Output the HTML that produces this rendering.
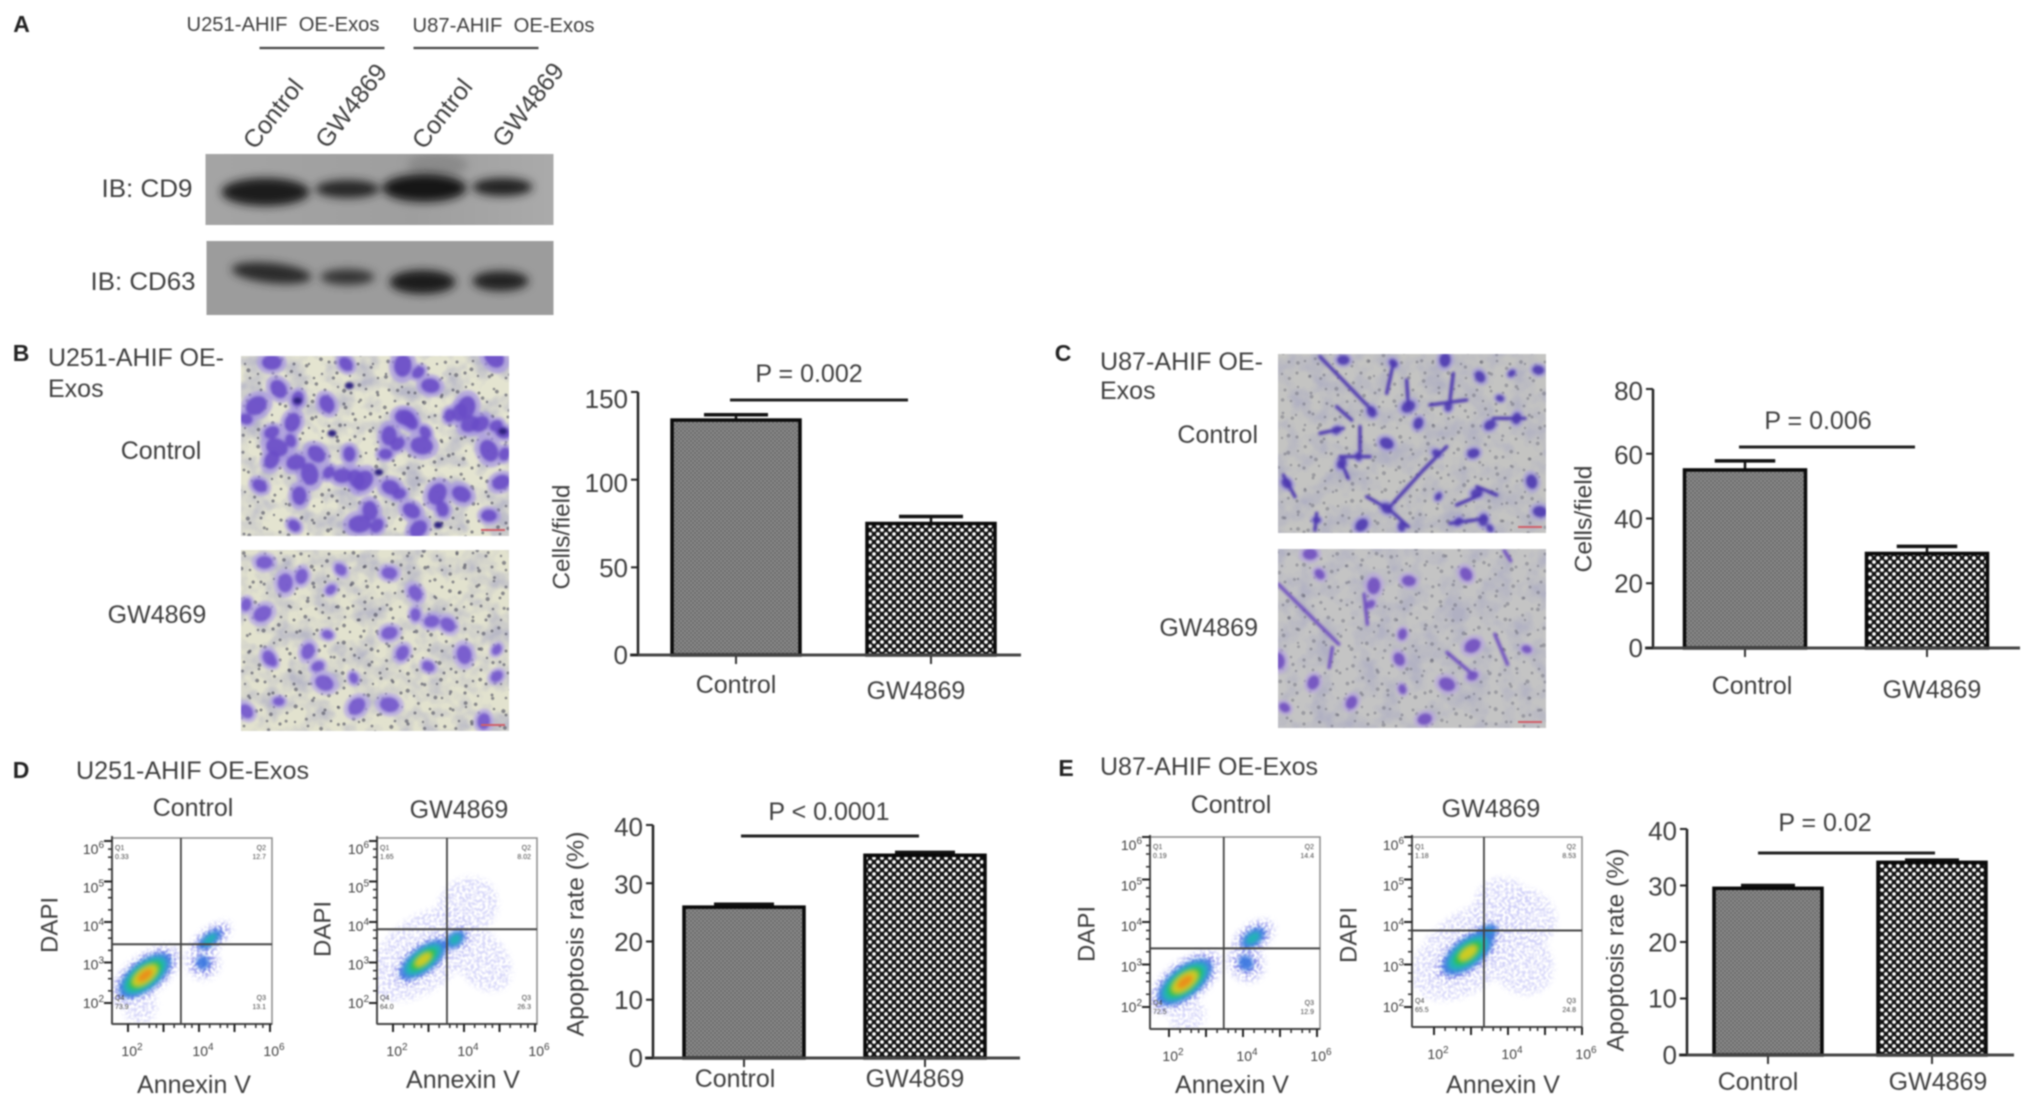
<!DOCTYPE html>
<html lang="en">
<head>
<meta charset="utf-8">
<title>GW4869 exosome inhibition figure</title>
<style>
html,body{margin:0;padding:0;background:#fff;width:2031px;height:1108px;overflow:hidden}
#figure{display:block;filter:blur(.85px)}
text{font-family:"Liberation Sans",sans-serif;fill:#3f3f3f}
</style>
</head>
<body>
<svg id="figure" xmlns="http://www.w3.org/2000/svg" width="2031" height="1108" viewBox="0 0 2031 1108">
<defs>
<pattern id="ctrl-fill" width="4" height="4" patternUnits="userSpaceOnUse"><rect width="4" height="4" fill="#6e6e6e"/><circle cx="1" cy="1" r=".9" fill="#9c9c9c"/><circle cx="3" cy="3" r=".9" fill="#9c9c9c"/></pattern>
<pattern id="gw-fill" width="8" height="8" patternUnits="userSpaceOnUse"><rect width="8" height="8" fill="#111"/><circle cx="2" cy="2" r="1.9" fill="#fff"/><circle cx="6" cy="6" r="1.9" fill="#fff"/></pattern>
<pattern id="pores" width="64" height="64" patternUnits="userSpaceOnUse">
<g fill="#4c4c5c">
<circle cx="5" cy="6" r="1.5"/><circle cx="18" cy="3" r="1.2"/><circle cx="31" cy="9" r="1.5"/><circle cx="46" cy="5" r="1.3"/><circle cx="58" cy="11" r="1.5"/>
<circle cx="11" cy="17" r="1.3"/><circle cx="24" cy="20" r="1.6"/><circle cx="39" cy="18" r="1.2"/><circle cx="52" cy="22" r="1.4"/>
<circle cx="3" cy="29" r="1.4"/><circle cx="16" cy="31" r="1.2"/><circle cx="33" cy="30" r="1.5"/><circle cx="45" cy="33" r="1.3"/><circle cx="60" cy="33" r="1.5"/>
<circle cx="9" cy="42" r="1.5"/><circle cx="25" cy="41" r="1.3"/><circle cx="38" cy="44" r="1.5"/><circle cx="53" cy="44" r="1.2"/>
<circle cx="2" cy="54" r="1.2"/><circle cx="17" cy="53" r="1.6"/><circle cx="30" cy="56" r="1.2"/><circle cx="44" cy="55" r="1.5"/><circle cx="58" cy="58" r="1.3"/>
</g></pattern>
<pattern id="pores-rotated" href="#pores" patternTransform="rotate(37) scale(1.25)"></pattern>
<filter id="band-blur" x="-40%" y="-80%" width="180%" height="260%"><feGaussianBlur stdDeviation="4.5"/></filter>
<filter id="cell-blur" x="-20%" y="-20%" width="140%" height="140%"><feGaussianBlur stdDeviation="1.4"/></filter>
<filter id="cloud-blur" x="-30%" y="-30%" width="160%" height="160%"><feGaussianBlur stdDeviation="2"/></filter>
<filter id="cloud-grain" x="-30%" y="-30%" width="160%" height="160%" color-interpolation-filters="sRGB"><feGaussianBlur in="SourceGraphic" stdDeviation="3" result="soft"/><feTurbulence type="fractalNoise" baseFrequency="0.35" numOctaves="1" seed="8"/><feColorMatrix values="0 0 0 0 0 0 0 0 0 0 0 0 0 0 0 3.5 0 0 0 -1.3" result="grain"/><feComposite in="soft" in2="grain" operator="in"/></filter>
<filter id="mottle" x="0" y="0" width="100%" height="100%" color-interpolation-filters="sRGB"><feTurbulence type="fractalNoise" baseFrequency="0.045" numOctaves="3" seed="11"/><feColorMatrix values="0 0 0 0 .62 0 0 0 0 .62 0 0 0 0 .76 2.4 0 0 0 -.95"/></filter>
<linearGradient id="blot-a" x1="0" y1="0" x2="1" y2="0"><stop offset="0" stop-color="#a4a4a4"/><stop offset=".6" stop-color="#9e9e9e"/><stop offset="1" stop-color="#aaa"/></linearGradient>
</defs>
<rect width="2031" height="1108" fill="#fff"/>

<g transform="translate(-2.5 0)">
<text x="24" y="24" font-size="23" font-weight="bold" text-anchor="middle" dominant-baseline="central" style="fill:#222">A</text>
<text x="189" y="25" font-size="20" dominant-baseline="central" textLength="193" lengthAdjust="spacingAndGlyphs" xml:space="preserve">U251-AHIF  OE-Exos</text>
<text x="415" y="26" font-size="20" dominant-baseline="central" textLength="182" lengthAdjust="spacingAndGlyphs" xml:space="preserve">U87-AHIF  OE-Exos</text>
<line x1="262" y1="48" x2="387" y2="48" stroke="#444" stroke-width="2.2"/>
<line x1="416" y1="48" x2="541" y2="48" stroke="#444" stroke-width="2.2"/>
<text transform="translate(276 114) rotate(-52)" font-size="25" text-anchor="middle" dominant-baseline="central">Control</text>
<text transform="translate(354 106) rotate(-52)" font-size="25" text-anchor="middle" dominant-baseline="central">GW4869</text>
<text transform="translate(445 114) rotate(-52)" font-size="25" text-anchor="middle" dominant-baseline="central">Control</text>
<text transform="translate(531 105) rotate(-52)" font-size="25" text-anchor="middle" dominant-baseline="central">GW4869</text>
<text x="104" y="189" font-size="25" dominant-baseline="central" textLength="91" lengthAdjust="spacingAndGlyphs">IB: CD9</text>
<text x="93" y="282" font-size="25" dominant-baseline="central" textLength="105" lengthAdjust="spacingAndGlyphs">IB: CD63</text>
<svg x="208" y="154" width="348" height="71" viewBox="208 154 348 71">
<rect x="208" y="154" width="348" height="71" fill="url(#blot-a)"/>
<ellipse cx="440" cy="165" rx="30" ry="12" fill="#8a8a8a" filter="url(#band-blur)"/>
<g filter="url(#band-blur)">
<ellipse cx="268" cy="192" rx="44" ry="14" fill="#1a1a1a"/>
<ellipse cx="350" cy="189" rx="32" ry="9" fill="#262626"/>
<ellipse cx="427" cy="188" rx="42" ry="14" fill="#161616"/>
<ellipse cx="505" cy="187" rx="30" ry="9" fill="#202020"/>
</g>
</svg>
<svg x="209" y="241" width="347" height="74" viewBox="209 241 347 74">
<rect x="209" y="241" width="347" height="74" fill="#9c9c9c"/>
<g filter="url(#band-blur)">
<ellipse cx="274" cy="273" rx="40" ry="10" fill="#2c2c2c" transform="rotate(6 274 273)"/>
<ellipse cx="350" cy="277" rx="27" ry="8" fill="#343434"/>
<ellipse cx="425" cy="282" rx="33" ry="12" fill="#1c1c1c"/>
<ellipse cx="503" cy="281" rx="28" ry="10" fill="#242424"/>
</g>
</svg>
</g>

<g>
<text x="21" y="353" font-size="23" font-weight="bold" text-anchor="middle" dominant-baseline="central" style="fill:#222">B</text>
<text x="48" y="358" font-size="25" dominant-baseline="central" textLength="176" lengthAdjust="spacingAndGlyphs">U251-AHIF OE-</text>
<text x="48" y="389" font-size="25" dominant-baseline="central">Exos</text>
<text x="161" y="451" font-size="25" text-anchor="middle" dominant-baseline="central">Control</text>
<text x="157" y="615" font-size="25" text-anchor="middle" dominant-baseline="central">GW4869</text>
</g>
<g>
<text x="1063" y="353" font-size="23" font-weight="bold" text-anchor="middle" dominant-baseline="central" style="fill:#222">C</text>
<text x="1100" y="362" font-size="25" dominant-baseline="central" textLength="163" lengthAdjust="spacingAndGlyphs">U87-AHIF OE-</text>
<text x="1100" y="391" font-size="25" dominant-baseline="central">Exos</text>
<text x="1265" y="435" font-size="25" text-anchor="end" dominant-baseline="central" transform="translate(-7 0)">Control</text>
<text x="1265" y="628" font-size="25" text-anchor="end" dominant-baseline="central" transform="translate(-7 0)">GW4869</text>
</g>
<g>
<text x="21" y="770" font-size="23" font-weight="bold" text-anchor="middle" dominant-baseline="central" style="fill:#222">D</text>
<text x="76" y="771" font-size="25" dominant-baseline="central" textLength="233" lengthAdjust="spacingAndGlyphs">U251-AHIF OE-Exos</text>
</g>
<g>
<text x="1071" y="768" font-size="23" font-weight="bold" text-anchor="middle" dominant-baseline="central" style="fill:#222" transform="translate(-5 0)">E</text>
<text x="1100" y="767" font-size="25" dominant-baseline="central" textLength="218" lengthAdjust="spacingAndGlyphs">U87-AHIF OE-Exos</text>
</g>
</svg>
<script>
// ---- bar chart data ----
const categories = ['Control', 'GW4869'];
const panelBMeans = [134, 75];
const panelBErrors = [3, 4];
const panelBTicks = [0, 50, 100, 150];
const panelBTitle = 'Cells/field';
const panelBPValue = 'P = 0.002';
const panelCMeans = [55, 29.2];
const panelCErrors = [2.8, 2.2];
const panelCTicks = [0, 20, 40, 60, 80];
const panelCTitle = 'Cells/field';
const panelCPValue = 'P = 0.006';
const panelDMeans = [25.9, 34.8];
const panelDErrors = [0.5, 0.5];
const panelDTicks = [0, 10, 20, 30, 40];
const panelDTitle = 'Apoptosis rate (%)';
const panelDPValue = 'P < 0.0001';
const panelEMeans = [29.5, 34.1];
const panelEErrors = [0.5, 0.4];
const panelETicks = [0, 10, 20, 30, 40];
const panelETitle = 'Apoptosis rate (%)';
const panelEPValue = 'P = 0.02';

// ---- flow cytometry data (density clouds, log10 units) ----
const flowExponents = [2, 3, 4, 5, 6];
const flowXLabelExponents = [2, 4, 6];
const d1LogX = [2.35, 4.11, 4.31, 2.48];
const d1LogY = [1.9, 3.0, 3.57, 2.68];
const d1SpreadX = [0.5, 0.5, 0.75, 1.2];
const d1SpreadY = [0.4, 0.45, 0.3, 0.5];
const d1Density = [1, 3, 4, 7];
const d1Gate = [3.49, 3.45];
const d1Percent = ['0.33', '12.7', '13.1', '73.9'];
const d2LogX = [2.8, 4.1, 4.5, 3.75, 2.85];
const d2LogY = [3.2, 4.38, 3.08, 3.57, 3.07];
const d2SpreadX = [1.7, 0.9, 0.7, 0.6, 1.15];
const d2SpreadY = [0.9, 0.7, 0.9, 0.35, 0.45];
const d2Density = [1, 1, 1, 4, 6];
const d2Gate = [3.52, 3.82];
const d2Percent = ['1.65', '8.02', '26.3', '64.0'];
const e1LogX = [2.5, 4.08, 4.27, 2.43];
const e1LogY = [1.8, 3.04, 3.62, 2.59];
const e1SpreadX = [0.5, 0.5, 0.7, 1.2];
const e1SpreadY = [0.4, 0.5, 0.35, 0.5];
const e1Density = [1, 3, 4, 7];
const e1Gate = [3.48, 3.38];
const e1Percent = ['0.19', '14.4', '12.9', '72.5'];
const e2LogX = [2.9, 3.86, 4.57, 4.38, 3.38, 2.92];
const e2LogY = [3.3, 4.35, 4.12, 3.04, 3.7, 3.27];
const e2SpreadX = [1.7, 0.8, 0.7, 0.8, 0.7, 1.2];
const e2SpreadY = [0.9, 0.7, 0.7, 0.8, 0.35, 0.5];
const e2Density = [1, 1, 1, 1, 4, 6];
const e2Gate = [3.35, 3.8];
const e2Percent = ['1.18', '8.53', '24.8', '65.5'];

// ---- micrograph cell positions, measured on the picture ----
const cellsB1 = [[95,25],[310,30],[475,35],[520,55],[555,95],[115,105],[170,135],[50,155],[20,195],[255,150],[155,205],[95,235],[110,280],[150,260],[95,318],[165,325],[60,395],[205,360],[260,355],[300,365],[225,300],[320,300],[360,380],[425,300],[490,195],[435,245],[460,270],[530,275],[540,235],[640,175],[670,210],[765,235],[725,290],[770,300],[760,385],[645,420],[590,465],[575,420],[465,420],[500,470],[380,470],[400,515],[350,510],[160,515],[175,425],[520,525],[725,485],[740,10],[610,185],[700,210],[480,190],[500,205],[660,160],[745,215],[440,400],[340,375]];
const darkB1 = [[320,95],[270,238],[405,355],[578,513],[765,232],[170,140]];
const cellsB2 = [[408,703],[525,725],[440,765],[510,785],[600,735],[640,795],[380,830],[405,857],[505,920],[415,990],[475,970],[490,1015],[500,1065],[545,1050],[620,975],[600,915],[660,1015],[715,980],[765,965],[665,880],[690,890],[640,860],[550,1135],[430,1120],[380,1150],[745,1180],[765,1045],[600,1130],[420,1000],[465,745]];
const cellsC1 = [[190,30],[340,40],[495,30],[695,70],[775,60],[600,80],[505,170],[385,170],[660,145],[275,185],[415,220],[170,240],[320,280],[235,320],[185,340],[580,310],[470,310],[755,395],[475,440],[590,430],[320,475],[365,530],[245,525],[110,510],[20,400],[610,510],[535,515],[780,485],[630,535],[710,205],[630,225]];
const processesC1 = [[120,20,280,185],[340,40,320,130],[380,90,385,170],[520,70,510,150],[450,165,560,150],[430,360,500,290],[430,360,330,470],[240,230,240,320],[180,320,270,320],[185,340,205,385],[120,250,190,235],[10,375,45,440],[110,490,105,540],[260,440,330,480],[330,480,385,530],[590,410,650,435],[530,465,600,435],[510,520,620,505],[170,170,215,210],[640,205,735,205]];
const cellsC2 = [[435,680],[450,740],[535,775],[530,830],[590,760],[680,740],[580,920],[690,955],[775,965],[575,995],[440,1065],[690,1045],[650,1070],[580,1085],[500,1125],[615,1175],[395,1140],[385,1000]];
const processesC2 = [[385,770,480,950],[740,670,750,700],[470,960,465,1020],[650,975,690,1040],[520,800,525,890],[725,920,745,1010]];

const root = document.getElementById('figure');
const NS = 'http://www.w3.org/2000/svg';
function svgEl(tag, parent, attrs) {
  const el = document.createElementNS(NS, tag);
  for (const k in attrs) el.setAttribute(k, attrs[k]);
  parent.appendChild(el);
  return el;
}
function txt(parent, x, y, str, size, anchor) {
  const t = svgEl('text', parent, {x: x, y: y, 'font-size': size, 'text-anchor': anchor, 'dominant-baseline': 'central'});
  t.textContent = str;
  return t;
}

// ---- bar chart ----
function drawBarChart(id, L, means, errors, ticks, title, pValue) {
  const g = svgEl('g', root, {});
  
  
  const maxV = ticks[ticks.length - 1];
  const yScale = v => L.y0 - v * (L.y0 - L.yTop) / maxV;
  const xScale = i => L.first + i * L.step;

  categories.forEach((cat, i) => {
    const cx = xScale(i);
    const top = yScale(means[i]);
    const errTop = yScale(means[i] + errors[i]);
    const stem = svgEl('line', g, {x1: cx, x2: cx, y1: errTop, y2: top, stroke: '#111', 'stroke-width': 2.5});
    
    
    const cap = svgEl('line', g, {x1: cx - L.barW * 0.25, x2: cx + L.barW * 0.25, y1: errTop, y2: errTop, stroke: '#111', 'stroke-width': 3.5});
    
    
    const bar = svgEl('rect', g, {x: cx - L.barW / 2, y: top, width: L.barW, height: L.y0 - top, fill: i === 0 ? 'url(#ctrl-fill)' : 'url(#gw-fill)', stroke: '#0a0a0a', 'stroke-width': 3.5});
    
    
    const tick = svgEl('line', g, {x1: cx, x2: cx, y1: L.y0, y2: L.y0 + 9, stroke: '#333', 'stroke-width': 2});
    
    
    const lab = txt(g, L.catX[i], L.catY[i], cat, 25, 'middle');
    
    
  });

  const yAxis = svgEl('line', g, {x1: L.axisX, x2: L.axisX, y1: L.yTop, y2: L.y0 + 1, stroke: '#222', 'stroke-width': 2.5});
  
  
  const xAxis = svgEl('line', g, {x1: L.axisX - 8, x2: L.xEnd, y1: L.y0, y2: L.y0, stroke: '#444', 'stroke-width': 3});
  
  

  ticks.forEach(v => {
    const y = yScale(v);
    const tk = svgEl('line', g, {x1: L.axisX - 7, x2: L.axisX, y1: y, y2: y, stroke: '#222', 'stroke-width': 2});
    
    
    const shift = L.skew * Math.pow(v / maxV, 2);
    const lab = txt(g, L.axisX - 10, y + shift, String(v), 26, 'end');
    
    
  });

  const yt = svgEl('text', g, {transform: 'translate(' + L.titleX + ' ' + L.titleY + ') rotate(-90)', 'font-size': 24, 'text-anchor': 'middle', 'dominant-baseline': 'central', textLength: L.titleLen, lengthAdjust: 'spacingAndGlyphs'});
  yt.textContent = title;
  
  

  const pl = svgEl('line', g, {x1: L.pX1, x2: L.pX2, y1: L.pLineY, y2: L.pLineY, stroke: '#222', 'stroke-width': 3});
  
  
  const pt = txt(g, L.pTextX, L.pTextY, pValue, 25, 'middle');
  
  
}

drawBarChart('panel-b', {axisX:638, y0:655, yTop:392, first:736, step:195, barW:128, xEnd:1021, skew:7, catX:[736,916], catY:[685,691], titleX:562, titleY:537, titleLen:105, pX1:730, pX2:908, pLineY:400, pTextX:809, pTextY:374}, panelBMeans, panelBErrors, panelBTicks, panelBTitle, panelBPValue);
drawBarChart('panel-c', {axisX:1653, y0:648, yTop:389, first:1745, step:182, barW:121, xEnd:2020, skew:2, catX:[1752,1932], catY:[686,690], titleX:1584, titleY:519, titleLen:107, pX1:1739, pX2:1915, pLineY:447, pTextX:1818, pTextY:421}, panelCMeans, panelCErrors, panelCTicks, panelCTitle, panelCPValue);
drawBarChart('panel-d', {axisX:653, y0:1058, yTop:825, first:744, step:181, barW:120, xEnd:1020, skew:2, catX:[735,915], catY:[1079,1079], titleX:576, titleY:934, titleLen:205, pX1:741, pX2:919, pLineY:836, pTextX:829, pTextY:812}, panelDMeans, panelDErrors, panelDTicks, panelDTitle, panelDPValue);
drawBarChart('panel-e', {axisX:1687, y0:1055, yTop:829, first:1768, step:164, barW:108, xEnd:2014, skew:2, catX:[1758,1938], catY:[1082,1082], titleX:1616, titleY:950, titleLen:203, pX1:1758, pX2:1935, pLineY:853, pTextX:1825, pTextY:823}, panelEMeans, panelEErrors, panelETicks, panelETitle, panelEPValue);

// ---- flow cytometry plots ----
const densityColors = ['#cfcff7', '#8e8eea', '#3c78e0', '#22b6b4', '#2cc044', '#d8cc20', '#ea8a20'];
let clipIndex = 0;
function drawFlow(id, L, logX, logY, spreadX, spreadY, density, gate, percent, heading) {
  const g = svgEl('g', root, {});
  
  
  const xS = v => L.x2 + (v - 2) * L.xDec;
  const yS = v => L.y2 - (v - 2) * L.yDec;
  const clipId = 'flow-clip-' + (clipIndex++);
  const clip = svgEl('clipPath', g, {id: clipId});
  svgEl('rect', clip, {x: L.x, y: L.y, width: L.w, height: L.h});
  const bg = svgEl('rect', g, {x: L.x, y: L.y, width: L.w, height: L.h, fill: '#fff', stroke: '#8a8a8a', 'stroke-width': 1.5});
  
  
  const clip2 = svgEl('g', g, {'clip-path': 'url(#' + clipId + ')'});
  const pale = svgEl('g', clip2, {filter: 'url(#cloud-grain)'});
  const solid = svgEl('g', clip2, {filter: 'url(#cloud-blur)'});
  logX.forEach((lx, i) => {
    const cx = xS(lx), cy = yS(logY[i]);
    for (let lvl = 0; lvl < density[i]; lvl++) {
      const k = 1 - lvl / density[i] * 0.92;
      const layer = lvl < 2 ? pale : solid;
      const e = svgEl('ellipse', layer, {cx: cx, cy: cy, rx: spreadX[i] * L.xDec * k, ry: spreadY[i] * L.yDec * k, fill: densityColors[lvl], 'fill-opacity': density[i] === 1 ? 0.8 : 0.95, transform: 'rotate(-38 ' + cx + ' ' + cy + ')'});
      
      
    }
  });
  const vg = svgEl('line', g, {x1: xS(gate[0]), x2: xS(gate[0]), y1: L.y, y2: L.y + L.h, stroke: '#444', 'stroke-width': 1.8});
  
  
  const hg = svgEl('line', g, {x1: L.x, x2: L.x + L.w, y1: yS(gate[1]), y2: yS(gate[1]), stroke: '#444', 'stroke-width': 2});
  
  
  const left = svgEl('line', g, {x1: L.x, x2: L.x, y1: L.y - 2, y2: L.y + L.h, stroke: '#444', 'stroke-width': 2});
  
  
  const bottom = svgEl('line', g, {x1: L.x, x2: L.x + L.w, y1: L.y + L.h, y2: L.y + L.h, stroke: '#444', 'stroke-width': 2});
  
  

  flowExponents.forEach((ex) => {
    [0.3, 0.6, 0.8].forEach(off => {
      if (ex < 6) {
        const mx = svgEl('line', g, {x1: xS(ex + off), x2: xS(ex + off), y1: L.y + L.h, y2: L.y + L.h + 4, stroke: '#333', 'stroke-width': 1.6});
        
        
        const my = svgEl('line', g, {x1: L.x - 4, x2: L.x, y1: yS(ex + off), y2: yS(ex + off), stroke: '#333', 'stroke-width': 1.6});
        
        
      }
    });
    const tx = svgEl('line', g, {x1: xS(ex), x2: xS(ex), y1: L.y + L.h, y2: L.y + L.h + 8, stroke: '#222', 'stroke-width': 2});
    
    
    const ty = svgEl('line', g, {x1: L.x - 8, x2: L.x, y1: yS(ex), y2: yS(ex), stroke: '#222', 'stroke-width': 2});
    
    
    const yl = svgEl('text', g, {x: L.x - 8, y: yS(ex) + 5 + (ex - 2) * 2, 'font-size': 14, 'text-anchor': 'end'});
    
    
    yl.textContent = '10';
    svgEl('tspan', yl, {dy: -6, 'font-size': 10}).textContent = ex;
  });
  flowXLabelExponents.forEach(ex => {
    const xl = svgEl('text', g, {x: xS(ex) + 4, y: L.y + L.h + 32, 'font-size': 14, 'text-anchor': 'middle'});
    
    
    xl.textContent = '10';
    svgEl('tspan', xl, {dy: -6, 'font-size': 10}).textContent = ex;
  });

  const qNames = ['Q1', 'Q2', 'Q3', 'Q4'];
  qNames.forEach((q, i) => {
    const right = i === 1 || i === 2;
    const low = i >= 2;
    const qx = right ? L.x + L.w - 6 : L.x + 3;
    const qy = low ? L.y + L.h - 24 : L.y + 12;
    const a = right ? 'end' : 'start';
    const qt = svgEl('text', g, {x: qx, y: qy, 'font-size': 7, 'text-anchor': a});
    qt.textContent = q;
    
    
    const pc = svgEl('text', g, {x: qx, y: qy + 9, 'font-size': 7, 'text-anchor': a});
    pc.textContent = percent[i];
    
    
  });

  const head = txt(g, L.headX, L.headY, heading, 25, 'middle');
  
  
  const dapi = svgEl('text', g, {transform: 'translate(' + L.dapiX + ' ' + L.dapiY + ') rotate(-90)', 'font-size': 24, 'text-anchor': 'middle', 'dominant-baseline': 'central'});
  dapi.textContent = 'DAPI';
  
  
  const ann = txt(g, L.annX, L.annY, 'Annexin V', 25, 'middle');
  
  
}

drawFlow('panel-d-control', {x:112, y:838, w:160, h:186, x2:128, xDec:35.5, y2:1003, yDec:40.5, headX:193, headY:808, dapiX:50, dapiY:925, annX:194, annY:1085}, d1LogX, d1LogY, d1SpreadX, d1SpreadY, d1Density, d1Gate, d1Percent, 'Control');
drawFlow('panel-d-gw4869', {x:377, y:838, w:160, h:186, x2:393, xDec:35.5, y2:1003, yDec:40.5, headX:459, headY:810, dapiX:323, dapiY:929, annX:463, annY:1080}, d2LogX, d2LogY, d2SpreadX, d2SpreadY, d2Density, d2Gate, d2Percent, 'GW4869');
drawFlow('panel-e-control', {x:1150, y:837, w:170, h:192, x2:1169, xDec:37, y2:1007, yDec:42.5, headX:1231, headY:805, dapiX:1087, dapiY:934, annX:1232, annY:1085}, e1LogX, e1LogY, e1SpreadX, e1SpreadY, e1Density, e1Gate, e1Percent, 'Control');
drawFlow('panel-e-gw4869', {x:1412, y:837, w:170, h:190, x2:1434, xDec:37, y2:1007, yDec:42.5, headX:1491, headY:809, dapiX:1349, dapiY:935, annX:1503, annY:1085}, e2LogX, e2LogY, e2SpreadX, e2SpreadY, e2Density, e2Gate, e2Percent, 'GW4869');

// ---- micrographs ----
const cellScaleCycle = [1, 0.8, 1.15, 0.7, 0.95];
function drawMicrograph(id, L, cells, dark, processes) {
  const svg = svgEl('svg', root, {x: L.x, y: L.y, width: L.w, height: L.h, viewBox: L.x + ' ' + L.y + ' ' + L.w + ' ' + L.h});
  
  
  const bg = svgEl('rect', svg, {x: L.x, y: L.y, width: L.w, height: L.h, fill: L.bg});
  
  
  const mo = svgEl('rect', svg, {x: L.x, y: L.y, width: L.w, height: L.h, filter: 'url(#mottle)', opacity: L.mottle});
  
  
  const sp = svgEl('rect', svg, {x: L.x, y: L.y, width: L.w, height: L.h, fill: 'url(#pores)', opacity: L.pore});
  
  
  const sp2 = svgEl('rect', svg, {x: L.x, y: L.y, width: L.w, height: L.h, fill: 'url(#pores-rotated)', opacity: L.pore});
  
  
  const g = svgEl('g', svg, {filter: 'url(#cell-blur)'});
  const mx = v => L.ox + v / L.sx;
  const my = v => L.oy + v / 3;
  cells.forEach((c, i) => {
    const s = cellScaleCycle[i % cellScaleCycle.length];
    const cx = mx(c[0]), cy = my(c[1]);
    const h = svgEl('ellipse', g, {cx: cx, cy: cy, rx: L.r * s * 1.5, ry: L.r * s * 1.2, fill: L.halo, 'fill-opacity': 0.75, transform: 'rotate(' + (i * 47 % 180) + ' ' + cx + ' ' + cy + ')'});
    
    
  });
  processes.forEach(p => {
    const ln = svgEl('line', g, {x1: mx(p[0]), y1: my(p[1]), x2: mx(p[2]), y2: my(p[3]), stroke: L.cell, 'stroke-width': 3.5, 'stroke-linecap': 'round'});
    
    
  });
  cells.forEach((c, i) => {
    const s = cellScaleCycle[i % cellScaleCycle.length];
    const cx = mx(c[0]), cy = my(c[1]);
    const e = svgEl('ellipse', g, {cx: cx, cy: cy, rx: L.r * s, ry: L.r * s * 0.78, fill: L.cell, 'fill-opacity': 0.9, transform: 'rotate(' + (i * 47 % 180) + ' ' + cx + ' ' + cy + ')'});
    
    
  });
  dark.forEach(c => {
    const e = svgEl('ellipse', g, {cx: mx(c[0]), cy: my(c[1]), rx: 4.5, ry: 3.5, fill: '#2d2080'});
    
    
  });
  const bar = svgEl('line', svg, {x1: L.x + L.w - 28, x2: L.x + L.w - 4, y1: L.y + L.h - 6, y2: L.y + L.h - 6, stroke: '#d0606a', 'stroke-width': 2});
  
  
}
drawMicrograph('panel-b-control', {x:241, y:356, w:268, h:180, bg:'#e4e4d0', cell:'#6a4cc6', halo:'#a898e0', r:10, ox:239, oy:354, sx:2.9, pore:0.6, mottle:0.6}, cellsB1, darkB1, []);
drawMicrograph('panel-b-gw4869', {x:241, y:550, w:268, h:181, bg:'#e2e2ce', cell:'#7458cc', halo:'#b4a6e4', r:8.5, ox:-1, oy:328, sx:1.537, pore:0.6, mottle:0.6}, cellsB2, [], []);
drawMicrograph('panel-c-control', {x:1278, y:354, w:268, h:179, bg:'#c4c4c2', cell:'#4e38b0', halo:'#a8a0d8', r:6.5, ox:1280, oy:350, sx:3, pore:0.34, mottle:0.5}, cellsC1, [], processesC1);
drawMicrograph('panel-c-gw4869', {x:1278, y:549, w:268, h:179, bg:'#c4c4c4', cell:'#7050c0', halo:'#b8a8dc', r:7.5, ox:1033, oy:327.5, sx:1.57, pore:0.34, mottle:0.5}, cellsC2, [], processesC2);
</script>
</body>
</html>
